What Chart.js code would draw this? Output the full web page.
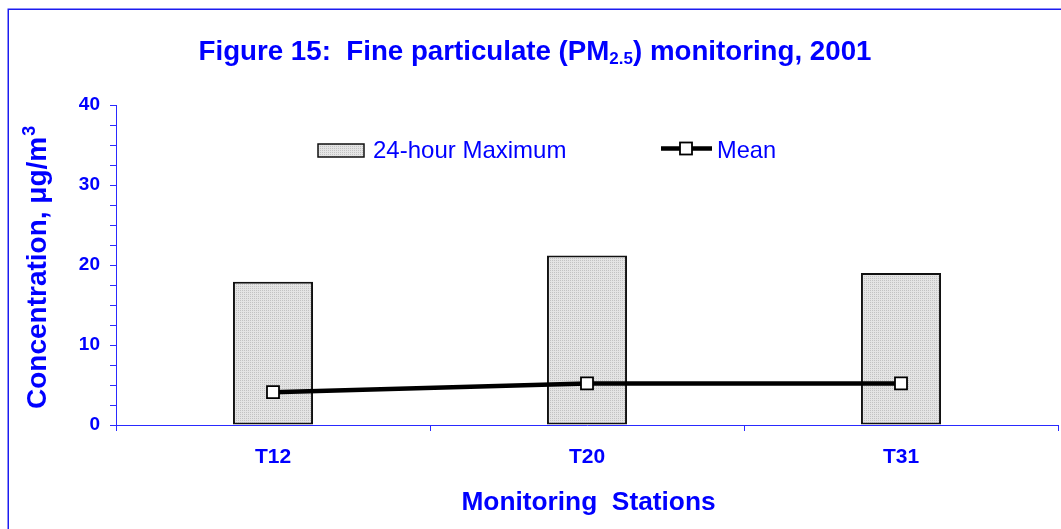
<!DOCTYPE html>
<html><head><meta charset="utf-8">
<script src="https://cdn.jsdelivr.net/npm/chart.js@4.4.1/dist/chart.umd.min.js"></script>
<style>html,body{margin:0;padding:0;background:#fff;overflow:hidden;} canvas{display:block;}</style>
</head><body>
<canvas id="c" width="1061" height="529"></canvas>
<script>
// ---- data ----
const categories = ['T12', 'T20', 'T31'];
const maxValues = [17.9, 21.2, 19.0];
const meanValues = [4.1, 5.2, 5.2];
const yTickLabels = [0, 10, 20, 30, 40];
const seriesLabels = ['24-hour Maximum', 'Mean'];
const titleParts = ['Figure 15:  Fine particulate (PM', '2.5', ') monitoring, 2001'];
const yTitleParts = ['Concentration, \u03bcg/m', '3'];
const xTitle = 'Monitoring  Stations';

// ---- styles ----
const FONT = "'Liberation Sans', Arial, Helvetica, sans-serif";
const BLUE = '#0000ff';
const AXIS = '#2a2aff';

function makePattern() {
  const p = document.createElement('canvas');
  p.width = 2; p.height = 2;
  const g = p.getContext('2d');
  g.fillStyle = '#e4e4e4'; g.fillRect(0, 0, 2, 2);
  g.fillStyle = '#c2c2c2'; g.fillRect(0, 0, 1, 1);
  return g.createPattern(p, 'repeat');
}
const barPattern = makePattern();

const decor = {
  id: 'decor',
  beforeDraw(chart) {
    const ctx = chart.ctx;
    ctx.save();
    ctx.fillStyle = '#fff';
    ctx.fillRect(0, 0, chart.width, chart.height);
    ctx.strokeStyle = '#1c1cf0';
    ctx.lineWidth = 1.5;
    ctx.strokeRect(8.25, 9.25, 1200, 700);
    ctx.restore();
  },
  afterDraw(chart) {
    const ctx = chart.ctx;
    ctx.save();
    ctx.fillStyle = BLUE;
    ctx.textBaseline = 'alphabetic';
    ctx.textAlign = 'left';
    // title
    const bigF = 'bold 27.7px ' + FONT, subF = 'bold 17px ' + FONT;
    ctx.font = bigF; const w0 = ctx.measureText(titleParts[0]).width;
    const w2 = ctx.measureText(titleParts[2]).width;
    ctx.font = subF; const w1 = ctx.measureText(titleParts[1]).width;
    let x = 535 - (w0 + w1 + w2) / 2; const by = 60;
    ctx.font = bigF; ctx.fillText(titleParts[0], x, by); x += w0;
    ctx.font = subF; ctx.fillText(titleParts[1], x, by + 4); x += w1;
    ctx.font = bigF; ctx.fillText(titleParts[2], x, by);
    // y title
    ctx.save();
    ctx.translate(46, 409);
    ctx.rotate(-Math.PI / 2);
    ctx.font = 'bold 28px ' + FONT;
    ctx.fillText(yTitleParts[0], 0, 0);
    const wy = ctx.measureText(yTitleParts[0]).width;
    ctx.font = 'bold 18px ' + FONT;
    ctx.fillText(yTitleParts[1], wy + 1, -11);
    ctx.restore();
    // x title
    ctx.font = 'bold 26.3px ' + FONT;
    ctx.textAlign = 'center';
    ctx.fillText(xTitle, 588.5, 510);
    // legend
    const ds = chart.data.datasets;
    ctx.textAlign = 'left';
    ctx.font = '24px ' + FONT;
    ctx.fillStyle = ds[0].backgroundColor;
    ctx.fillRect(318, 144, 46, 13);
    ctx.strokeStyle = ds[0].borderColor; ctx.lineWidth = 1.5;
    ctx.strokeRect(318, 144, 46, 13);
    ctx.fillStyle = BLUE;
    ctx.fillText(ds[0].label, 373, 158);
    ctx.strokeStyle = ds[1].borderColor; ctx.lineWidth = ds[1].borderWidth;
    ctx.beginPath(); ctx.moveTo(661, 148.5); ctx.lineTo(712, 148.5); ctx.stroke();
    ctx.fillStyle = ds[1].pointBackgroundColor;
    ctx.fillRect(680, 142.5, 12, 12);
    ctx.strokeStyle = ds[1].pointBorderColor; ctx.lineWidth = ds[1].pointBorderWidth;
    ctx.strokeRect(680, 142.5, 12, 12);
    ctx.fillStyle = BLUE;
    ctx.font = '23.6px ' + FONT;
    ctx.fillText(ds[1].label, 717, 158);
    ctx.restore();
  }
};

new Chart(document.getElementById('c'), {
  data: {
    labels: categories,
    datasets: [
      {
        type: 'bar', label: seriesLabels[0], data: maxValues,
        backgroundColor: barPattern, borderColor: '#111', borderWidth: 2,
        borderSkipped: false, barPercentage: 0.255, categoryPercentage: 1, order: 2
      },
      {
        type: 'line', label: seriesLabels[1], data: meanValues,
        borderColor: '#000', borderWidth: 4.5, tension: 0,
        pointStyle: 'rect', pointRadius: 8.5, pointHoverRadius: 8.5,
        pointBackgroundColor: '#fff', pointBorderColor: '#000', pointBorderWidth: 1.8, order: 1
      }
    ]
  },
  options: {
    responsive: false, animation: false, devicePixelRatio: 1,
    layout: { autoPadding: false, padding: { left: 0, right: 3, top: 105, bottom: 0 } },
    plugins: { legend: { display: false }, title: { display: false }, tooltip: { enabled: false } },
    scales: {
      x: {
        type: 'category', offset: true,
        grid: { display: true, offset: true, drawOnChartArea: false, drawTicks: true, tickLength: 6, color: AXIS, lineWidth: 1 },
        border: { display: true, color: AXIS, width: 1 },
        ticks: { color: BLUE, font: { family: FONT, size: 21, weight: 'bold' }, padding: 14, maxRotation: 0 },
        afterFit(s) { s.height = 104; s.paddingLeft = 0; s.paddingRight = 0; }
      },
      y: {
        min: 0, max: 40,
        grid: { display: true, drawOnChartArea: false, drawTicks: true, tickLength: 6, color: AXIS, lineWidth: 1 },
        border: { display: true, color: AXIS, width: 1 },
        ticks: {
          stepSize: 2.5, autoSkip: false, color: BLUE, padding: 10,
          font: { family: FONT, size: 19, weight: 'bold' },
          callback: (v) => (yTickLabels.includes(v) ? String(v) : '')
        },
        afterFit(s) { s.width = 116; s.paddingTop = 0; s.paddingBottom = 0; }
      }
    }
  },
  plugins: [decor]
});
</script>
</body></html>
